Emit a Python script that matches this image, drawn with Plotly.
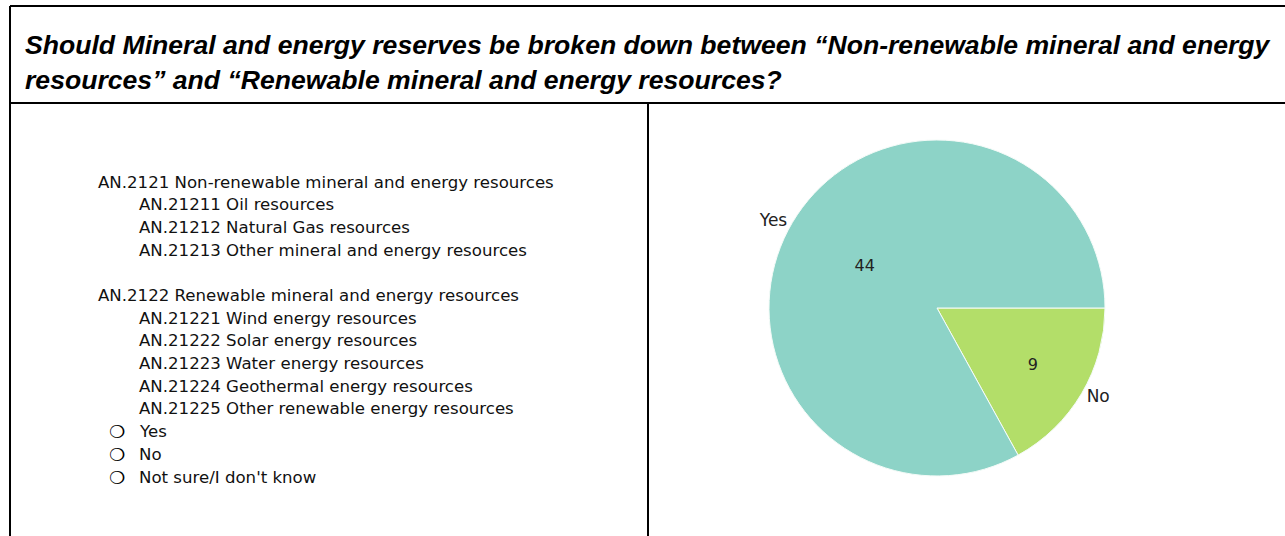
"""Survey question card: AN.212 breakdown text on the left, answer pie on the right."""

import plotly.graph_objects as go

W, H = 1285, 536

QUESTION = (
    "Should Mineral and energy reserves be broken down between \u201cNon-renewable mineral and energy<br>"
    "resources\u201d and \u201cRenewable mineral and energy resources?"
)

GROUP_1 = "AN.2121 Non-renewable mineral and energy resources"
GROUP_1_ITEMS = [
    "AN.21211 Oil resources",
    "AN.21212 Natural Gas resources",
    "AN.21213 Other mineral and energy resources",
]
GROUP_2 = "AN.2122 Renewable mineral and energy resources"
GROUP_2_ITEMS = [
    "AN.21221 Wind energy resources",
    "AN.21222 Solar energy resources",
    "AN.21223 Water energy resources",
    "AN.21224 Geothermal energy resources",
    "AN.21225 Other renewable energy resources",
]
OPTIONS = ["Yes", "No", "Not sure/I don't know"]

ANSWERS = ["Yes", "No"]
COUNTS = [44, 9]
SLICE_COLORS = ["#8DD3C7", "#B3DE69"]

_TEXT_FONT = {"family": "DejaVu Sans", "size": 16.6, "color": "#111111"}
_LINE = {"color": "#000000", "width": 2}


def px(x):
    return x / W


def py(y):
    return 1 - y / H


def text_at(fig, x, y, text, **font):
    fig.add_annotation(
        x=px(x), y=py(y), xref="paper", yref="paper",
        text=text, showarrow=False, xanchor="left", yanchor="middle",
        font={**_TEXT_FONT, **font},
    )


fig = go.Figure()

# pie: values inside, labels outside (two stacked traces on one domain).
# drawn clockwise from 3 o'clock with "No" first so "No" sits just below it
cx, cy, r = 937, 308, 168
domain = {"x": [px(cx - r), px(cx + r)], "y": [py(cy + r), py(cy - r)]}
common = dict(
    labels=ANSWERS[::-1], values=COUNTS[::-1], sort=False, direction="clockwise",
    rotation=90, domain=domain, showlegend=False,
)
fig.add_trace(go.Pie(
    **common,
    marker={"colors": SLICE_COLORS[::-1], "line": {"color": "#F4FBF8", "width": 1}},
    textinfo="value", textposition="inside", insidetextorientation="horizontal",
    insidetextfont={"family": "DejaVu Sans", "size": 16, "color": "#222222"},
))
fig.add_trace(go.Pie(
    **common,
    marker={"colors": ["rgba(0,0,0,0)"] * len(ANSWERS), "line": {"width": 0}},
    textinfo="label", textposition="outside",
    outsidetextfont={"family": "DejaVu Sans", "size": 17, "color": "#222222"},
    hoverinfo="skip",
))

# left column text
step = 22.7
y = 182
text_at(fig, 96, y, GROUP_1)
for item in GROUP_1_ITEMS:
    y += step
    text_at(fig, 137, y, item)
y += 2 * step
text_at(fig, 96, y, GROUP_2)
for item in GROUP_2_ITEMS:
    y += step
    text_at(fig, 137, y, item)
for opt in OPTIONS:
    y += step
    text_at(fig, 107, y, "<b>\u274D</b>", size=18, color="#000000")
    text_at(fig, 137, y, opt)

# question header
fig.add_annotation(
    x=px(23), y=py(62), xref="paper", yref="paper",
    text=f"<b><i>{QUESTION}</i></b>", showarrow=False,
    xanchor="left", yanchor="middle", align="left",
    font={"family": "Liberation Sans", "size": 26.6, "color": "#000000"},
)

# table borders
for x0, y0, x1, y1 in [(10, 6, W, 6), (10, 103, W, 103), (10, 6, 10, H), (648, 103, 648, H)]:
    fig.add_shape(
        type="line", xref="paper", yref="paper",
        x0=px(x0), y0=py(y0), x1=px(x1), y1=py(y1), line=_LINE,
    )

fig.update_layout(
    width=W, height=H,
    margin={"l": 0, "r": 0, "t": 0, "b": 0},
    paper_bgcolor="#FFFFFF", plot_bgcolor="#FFFFFF",
)

fig.write_html(
    "out.html",
    config={"displayModeBar": False},
    post_script="document.body.style.margin = '0';",
)
